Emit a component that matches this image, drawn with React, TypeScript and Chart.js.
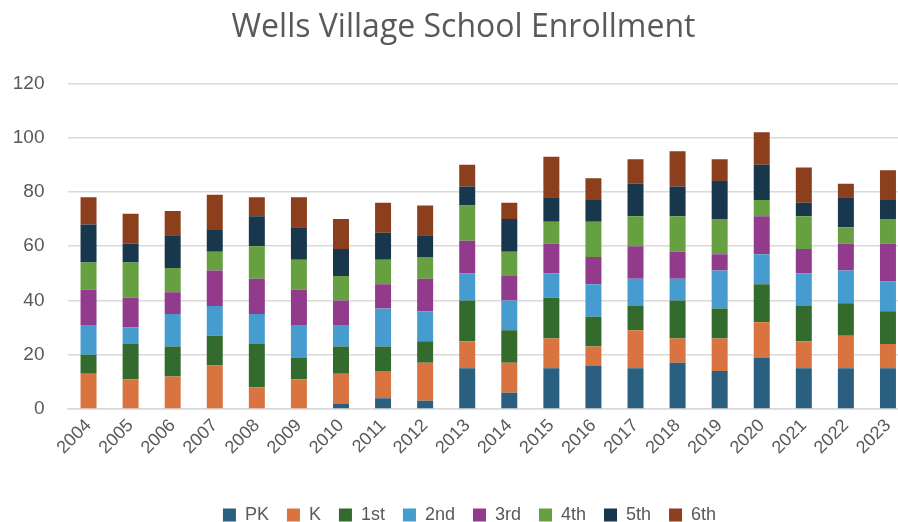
import React, { useEffect, useRef } from "react";
import { Chart, registerables } from "chart.js";

Chart.register(...registerables);

const categories = ["2004","2005","2006","2007","2008","2009","2010","2011","2012","2013","2014","2015","2016","2017","2018","2019","2020","2021","2022","2023"];
const pk = [0,0,0,0,0,0,2,4,3,15,6,15,16,15,17,14,19,15,15,15];
const kinder = [13,11,12,16,8,11,11,10,14,10,11,11,7,14,9,12,13,10,12,9];
const first = [7,13,11,11,16,8,10,9,8,15,12,15,11,9,14,11,14,13,12,12];
const second = [11,6,12,11,11,12,8,14,11,10,11,9,12,10,8,14,11,12,12,11];
const third = [13,11,8,13,13,13,9,9,12,12,9,11,10,12,10,6,14,9,10,14];
const fourth = [10,13,9,7,12,11,9,9,8,13,9,8,13,11,13,13,6,12,6,9];
const fifth = [14,7,12,8,11,12,10,10,8,7,12,9,8,12,11,14,13,5,11,7];
const sixth = [10,11,9,13,7,11,11,11,11,8,6,15,8,9,13,8,12,13,5,11];
const yTicks = [0, 20, 40, 60, 80, 100, 120];

const seriesNames = ["PK", "K", "1st", "2nd", "3rd", "4th", "5th", "6th"];
const seriesData = [pk, kinder, first, second, third, fourth, fifth, sixth];
const seriesColors = ["#2a5f7f", "#d97441", "#336a2d", "#469ccf", "#923a8c", "#67a041", "#18374c", "#8b3f1c"];

const shiftBlocks = {
  id: "shiftBlocks",
  afterLayout(chart: any) {
    if (chart.titleBlock) {
      chart.titleBlock.left += 9;
      chart.titleBlock.right += 9;
    }
    if (chart.legend) {
      chart.legend.left += 15;
      chart.legend.right += 15;
      chart.legend.top += 4;
      chart.legend.bottom += 4;
    }
  },
};

export default function App() {
  const ref = useRef<HTMLCanvasElement | null>(null);
  useEffect(() => {
    document.body.style.margin = "0";
    document.body.style.overflow = "hidden";
    if (!ref.current) return;
    const chart = new Chart(ref.current, {
      type: "bar",
      data: {
        labels: categories,
        datasets: seriesNames.map((name, i) => ({
          label: name,
          data: seriesData[i],
          backgroundColor: seriesColors[i],
          borderWidth: 0,
          barPercentage: 0.38,
          categoryPercentage: 1,
        })),
      },
      plugins: [shiftBlocks],
      options: {
        responsive: false,
        animation: false,
        devicePixelRatio: 1,
        layout: { padding: { left: 0, right: 21, top: 0, bottom: -8 } },
        plugins: {
          title: {
            display: true,
            text: "Wells Village School Enrollment",
            color: "#595959",
            font: { family: "'Open Sans'", size: 32, weight: "normal" },
            padding: { top: 9, bottom: 36 },
          },
          legend: {
            position: "bottom",
            labels: {
              color: "#595959",
              font: { family: "'Liberation Sans'", size: 18 },
              boxWidth: 13,
              boxHeight: 13,
              padding: 18,
            },
          },
          tooltip: { enabled: false },
        },
        scales: {
          x: {
            stacked: true,
            grid: { display: false, drawTicks: false },
            border: { display: true, color: "#d9d9d9", width: 1.5 },
            afterFit: (scale: any) => {
              scale.height = 75;
            },
            ticks: {
              color: "#595959",
              font: { family: "'Liberation Sans'", size: 18 },
              maxRotation: 45,
              minRotation: 45,
              padding: 6,
              autoSkip: false,
            },
          },
          y: {
            stacked: true,
            min: 0,
            max: 120,
            afterBuildTicks: (scale: any) => {
              scale.ticks = yTicks.map((v) => ({ value: v }));
            },
            afterFit: (scale: any) => {
              scale.width = 67.5;
            },
            grid: { color: "#d9d9d9", lineWidth: 1.5, drawTicks: false },
            border: { display: false },
            ticks: {
              color: "#595959",
              font: { family: "'Liberation Sans'", size: 19 },
              padding: 23,
            },
          },
        },
      },
    });
    return () => chart.destroy();
  }, []);
  return (
    <div style={{ width: 898, height: 522, overflow: "hidden", background: "#fff" }}>
      <canvas ref={ref} width={930} height={522} style={{ width: 930, height: 522, display: "block" }} />
    </div>
  );
}
